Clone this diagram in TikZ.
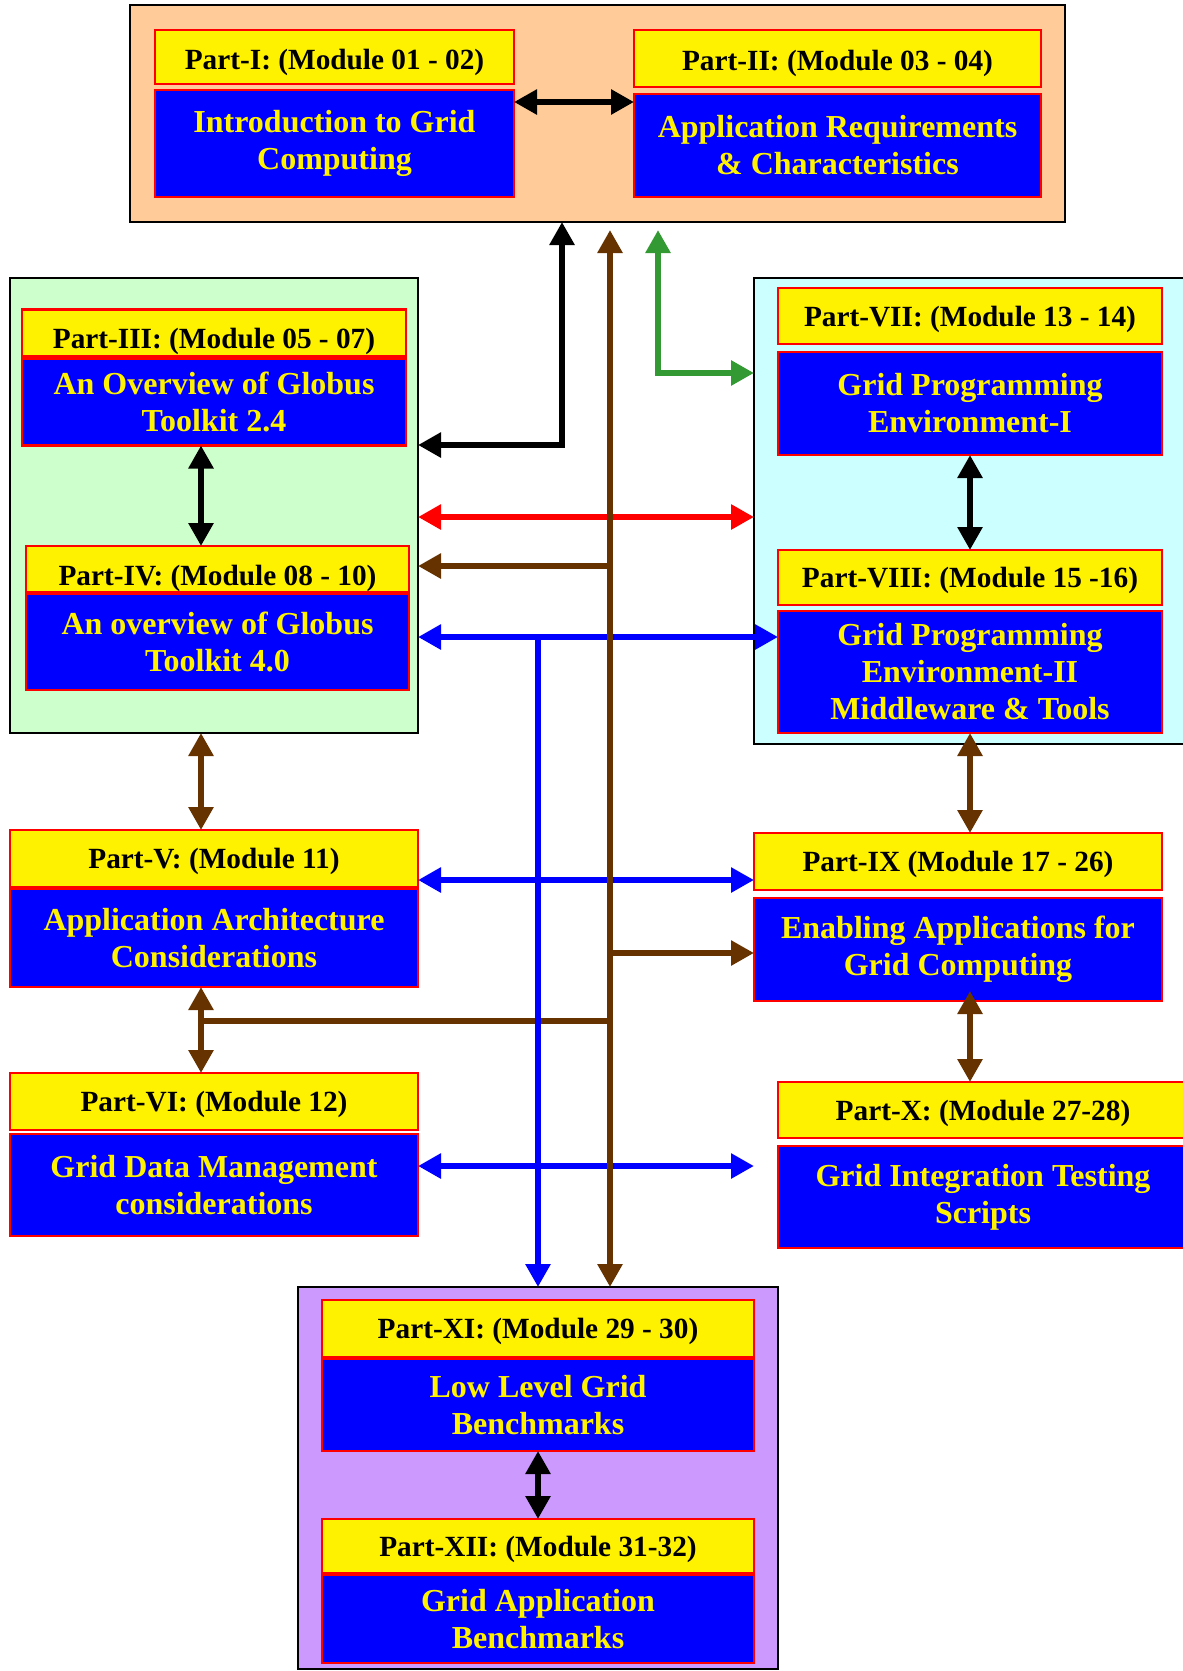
\documentclass[tikz,border=0pt]{standalone}
\usepackage{fontspec}
\setmainfont{Liberation Serif}
\usepackage{tikz}
\usetikzlibrary{arrows.meta,positioning}
\definecolor{peach}{RGB}{255,204,153}
\definecolor{mint}{RGB}{204,255,204}
\definecolor{ice}{RGB}{204,255,255}
\definecolor{lilac}{RGB}{204,153,255}
\definecolor{linkbrown}{RGB}{102,51,0}
\definecolor{linkgreen}{RGB}{51,153,51}
\newcommand{\hdfont}{\fontsize{29.3}{34}\selectfont\bfseries}
\newcommand{\tpfont}{\fontsize{32}{37}\selectfont\bfseries}

\begin{document}
\begin{tikzpicture}[x=1pt, y=-1pt,
        group/.style={rectangle, draw=black, line width=2pt, outer sep=0pt},
        part/.style={rectangle, draw=red, fill=yellow, line width=2.5pt, text=black, font=\hdfont, text height=20pt, text depth=0pt, inner sep=0pt, outer sep=0pt},
        topic/.style={rectangle, draw=red, fill=blue, line width=2.5pt, text=yellow, font=\tpfont, align=center, inner sep=0pt, outer sep=0pt},
        link/.style={line width=6.5pt, {Triangle[length=23pt,width=24pt]}-{Triangle[length=23pt,width=24pt]}},
        linkto/.style={line width=6.5pt, -{Triangle[length=23pt,width=24pt]}},
        linkplain/.style={line width=6.5pt}
    ]
        \useasboundingbox (0,0) rectangle (1183,1671);

        \node[group, fill=peach, minimum width=935pt, minimum height=217pt] (grpA) at (597.5,113.5) {};
        \node[group, fill=mint, minimum width=408pt, minimum height=455pt] (grpB) at (214,505.5) {};
        \node[group, fill=ice, minimum width=436pt, minimum height=466pt] (grpC) at (972,511) {};
        \node[group, fill=lilac, minimum width=480pt, minimum height=382pt] (grpD) at (538,1478) {};

        \node[part, minimum width=359pt, minimum height=54pt, text height=24pt] (p1) at (334.5,57) {Part-I: (Module 01 - 02)};
        \node[topic, minimum width=359pt, minimum height=107pt, below=6pt of p1] (t1) {Introduction to Grid\\Computing};
        \node[part, minimum width=407pt, minimum height=57pt, text height=24pt] (p2) at (837.5,58.5) {Part-II: (Module 03 - 04)};
        \node[topic, minimum width=407pt, minimum height=103pt, below=7pt of p2] (t2) {Application Requirements\\\& Characteristics};

        \node[part, minimum width=384pt, minimum height=47pt, text height=30pt] (p3) at (214,333) {Part-III: (Module 05 - 07)};
        \node[topic, minimum width=384pt, minimum height=87pt, below=2pt of p3] (t3) {An Overview of Globus\\Toolkit 2.4};
        \node[part, minimum width=383pt, minimum height=46pt, text height=32pt] (p4) at (217.5,569) {Part-IV: (Module 08 - 10)};
        \node[topic, minimum width=383pt, minimum height=96pt, below=2pt of p4] (t4) {An overview of Globus\\Toolkit 4.0};

        \node[part, minimum width=408pt, minimum height=57pt] (p5) at (214,858.5) {Part-V: (Module 11)};
        \node[topic, minimum width=408pt, minimum height=98pt, below=2pt of p5] (t5) {Application Architecture\\Considerations};
        \node[part, minimum width=408pt, minimum height=57pt] (p6) at (214,1101.5) {Part-VI: (Module 12)};
        \node[topic, minimum width=408pt, minimum height=102pt, below=4pt of p6] (t6) {Grid Data Management\\considerations};

        \node[part, minimum width=384pt, minimum height=56pt] (p7) at (970,316) {Part-VII: (Module 13 - 14)};
        \node[topic, minimum width=384pt, minimum height=103pt, below=8pt of p7] (t7) {Grid Programming\\Environment-I};
        \node[part, minimum width=384pt, minimum height=55pt] (p8) at (970,577.5) {Part-VIII: (Module 15 -16)};
        \node[topic, minimum width=384pt, minimum height=122pt, below=6pt of p8] (t8) {Grid Programming\\Environment-II\\Middleware \& Tools};

        \node[part, minimum width=408pt, minimum height=57pt] (p9) at (958,861.5) {Part-IX (Module 17 - 26)};
        \node[topic, minimum width=408pt, minimum height=103pt, below=8pt of p9] (t9) {Enabling Applications for\\Grid Computing};
        \node[part, minimum width=410pt, minimum height=56pt] (p10) at (983,1110) {Part-X: (Module 27-28)};
        \node[topic, minimum width=410pt, minimum height=102pt, below=8pt of p10] (t10) {Grid Integration Testing\\Scripts};

        \node[part, minimum width=432pt, minimum height=57pt] (p11) at (538,1328.5) {Part-XI: (Module 29 - 30)};
        \node[topic, minimum width=432pt, minimum height=92pt, below=2pt of p11] (t11) {Low Level Grid\\Benchmarks};
        \node[part, minimum width=432pt, minimum height=54pt] (p12) at (538,1546) {Part-XII: (Module 31-32)};
        \node[topic, minimum width=432pt, minimum height=88pt, below=2pt of p12] (t12) {Grid Application\\Benchmarks};

        \coordinate (lcol) at (201,0);
        \coordinate (rcol) at (970,0);
        \coordinate (trunk) at (610,0);
        \coordinate (bus) at (538,0);
        \coordinate (kbend) at (562,445);
        \coordinate (gbend) at (658,373);
        \coordinate (xend) at (754,1166);

        \draw[link] ([yshift=-12pt]t1.north east) -- ([yshift=-8pt]t2.north west);
        \draw[link, red] (grpB.east |- 0,517) -- (grpC.west |- 0,517);
        \draw[link, blue] (grpB.east |- 0,637) -- (t8.west |- 0,637);
        \draw[link, blue] (p5.east |- 0,880) -- (p9.west |- 0,880);
        \draw[link, blue] (t6.east |- xend) -- (xend);
        \draw[link] (grpA.south -| kbend) |- (grpB.east |- kbend);
        \draw[link, linkgreen] ([yshift=-8pt]grpA.south -| gbend) |- (grpC.west |- gbend);
        \draw[linkplain, linkbrown] (trunk |- 0,1021) -- (lcol |- 0,1021);
        \draw[linkto, blue] (bus |- 0,637) -- (grpD.north -| bus);
        \draw[link, linkbrown] ([yshift=-8pt]grpA.south -| trunk) -- (grpD.north -| trunk);
        \draw[linkto, linkbrown] (trunk |- 0,566) -- (grpB.east |- 0,566);
        \draw[linkto, linkbrown] (trunk |- 0,953) -- (t9.west |- 0,953);

        \draw[link] (t3.south -| lcol) -- (p4.north -| lcol);
        \draw[link, linkbrown] (grpB.south -| lcol) -- (p5.north -| lcol);
        \draw[link, linkbrown] (t5.south -| lcol) -- (p6.north -| lcol);
        \draw[link] (t7.south -| rcol) -- (p8.north -| rcol);
        \draw[link, linkbrown] (t8.south -| rcol) -- (p9.north -| rcol);
        \draw[link, linkbrown] ([yshift=10pt]t9.south -| rcol) -- (p10.north -| rcol);
        \draw[link] (t11.south) -- (p12.north);
    \end{tikzpicture}
\end{document}
